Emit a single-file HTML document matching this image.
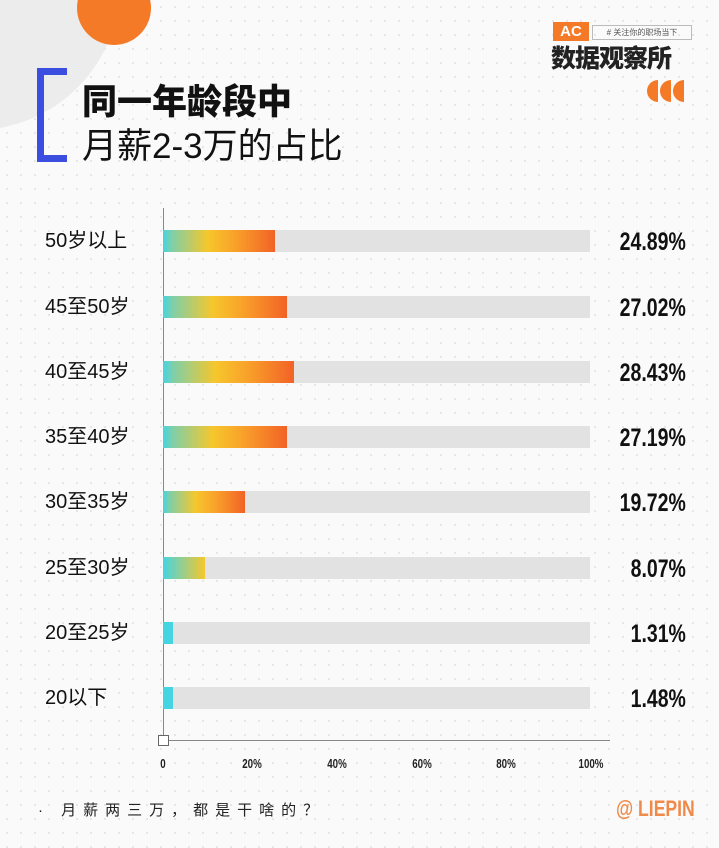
<!DOCTYPE html>
<html><head><meta charset="utf-8"><style>
body{margin:0;width:719px;height:848px;overflow:hidden;position:relative;background:#fafafa;font-family:"Liberation Sans","Noto Sans CJK SC",sans-serif;
background-image:radial-gradient(#e4e4e4 1px,transparent 1.2px);background-size:14px 14px;}
.a{position:absolute}
.lab{position:absolute;left:45px;font-size:20px;color:#111;line-height:24px}
.val{position:absolute;right:33px;font-size:25px;font-weight:bold;color:#111;transform:scaleX(.78);transform-origin:right center;line-height:28px}
.trk{position:absolute;left:163px;width:427px;height:22px;background:#e2e2e2}
.bar{position:absolute;left:163px;height:22px;background:linear-gradient(90deg,#45d4e2 0%,#7fcfa8 8%,#f6c72c 40%,#f9a02a 65%,#f26226 100%)}
.tk{position:absolute;top:756px;font-size:13px;font-weight:bold;color:#222;transform:scaleX(.75) translateX(-50%);transform-origin:left}
.q{position:absolute;top:80px;width:22px;height:22px;border-radius:50%;background:#f47a27;clip-path:inset(0 50% 0 0)}
</style></head><body>
<div class="a" style="left:-170px;top:-160px;width:290px;height:290px;border-radius:50%;background:#ececec"></div>
<div class="a" style="left:77px;top:-29px;width:74px;height:74px;border-radius:50%;background:#f47a27"></div>
<div class="a" style="left:37px;top:68px;width:30px;height:94px;border:7px solid #3b4ee0;border-right:none;box-sizing:border-box"></div>
<div class="a" style="left:82px;top:74px;font-size:35px;font-weight:900;color:#111">同一年龄段中</div>
<div class="a" style="left:82px;top:118px;font-size:35px;color:#111">月薪2-3万的占比</div>
<div class="a" style="left:553px;top:22px;width:36px;height:19px;background:#f47a27;color:#fff;font-size:15px;font-weight:bold;line-height:19px;text-align:center">AC</div>
<div class="a" style="left:592px;top:25px;width:98px;height:13px;border:1px solid #bbb;font-size:8px;line-height:13px;color:#555;text-align:center"># 关注你的职场当下</div>
<div class="a" style="left:551px;top:39px;font-size:25px;font-weight:900;color:#222;letter-spacing:-1px">数据观察所</div>
<div class="q" style="left:647px"></div><div class="q" style="left:660px"></div><div class="q" style="left:673px"></div>
<div class="a" style="left:163px;top:208px;width:1px;height:532px;background:#888"></div>
<div class="a" style="left:163px;top:740px;width:447px;height:1px;background:#888"></div>
<div class="a" style="left:158px;top:735px;width:9px;height:9px;border:1px solid #666;background:#fff"></div>

<div class="lab" style="top:229px">50岁以上</div><div class="trk" style="top:230px"></div><div class="bar" style="top:230px;width:112px"></div><div class="val" style="top:228px">24.89%</div>
<div class="lab" style="top:295px">45至50岁</div><div class="trk" style="top:296px"></div><div class="bar" style="top:296px;width:124px"></div><div class="val" style="top:294px">27.02%</div>
<div class="lab" style="top:360px">40至45岁</div><div class="trk" style="top:361px"></div><div class="bar" style="top:361px;width:131px"></div><div class="val" style="top:359px">28.43%</div>
<div class="lab" style="top:425px">35至40岁</div><div class="trk" style="top:426px"></div><div class="bar" style="top:426px;width:124px"></div><div class="val" style="top:424px">27.19%</div>
<div class="lab" style="top:490px">30至35岁</div><div class="trk" style="top:491px"></div><div class="bar" style="top:491px;width:82px"></div><div class="val" style="top:489px">19.72%</div>
<div class="lab" style="top:556px">25至30岁</div><div class="trk" style="top:557px"></div><div class="bar" style="top:557px;width:42px;background:linear-gradient(90deg,#45d4e2,#f6c72c)"></div><div class="val" style="top:555px">8.07%</div>
<div class="lab" style="top:621px">20至25岁</div><div class="trk" style="top:622px"></div><div class="bar" style="top:622px;width:10px;background:#45d4e2"></div><div class="val" style="top:620px">1.31%</div>
<div class="lab" style="top:686px">20以下</div><div class="trk" style="top:687px"></div><div class="bar" style="top:687px;width:10px;background:#45d4e2"></div><div class="val" style="top:685px">1.48%</div>

<div class="tk" style="left:163px">0</div><div class="tk" style="left:252px">20%</div><div class="tk" style="left:337px">40%</div><div class="tk" style="left:422px">60%</div><div class="tk" style="left:506px">80%</div><div class="tk" style="left:591px">100%</div>
<div class="a" style="left:38px;top:799px;font-size:15px;color:#222;letter-spacing:7px">· 月薪两三万，都是干啥的？</div>
<div class="a" style="left:616px;top:796px;font-size:22px;font-weight:bold;color:#f08a4b;transform:scaleX(.8);transform-origin:left">@ LIEPIN</div>
</body></html>
